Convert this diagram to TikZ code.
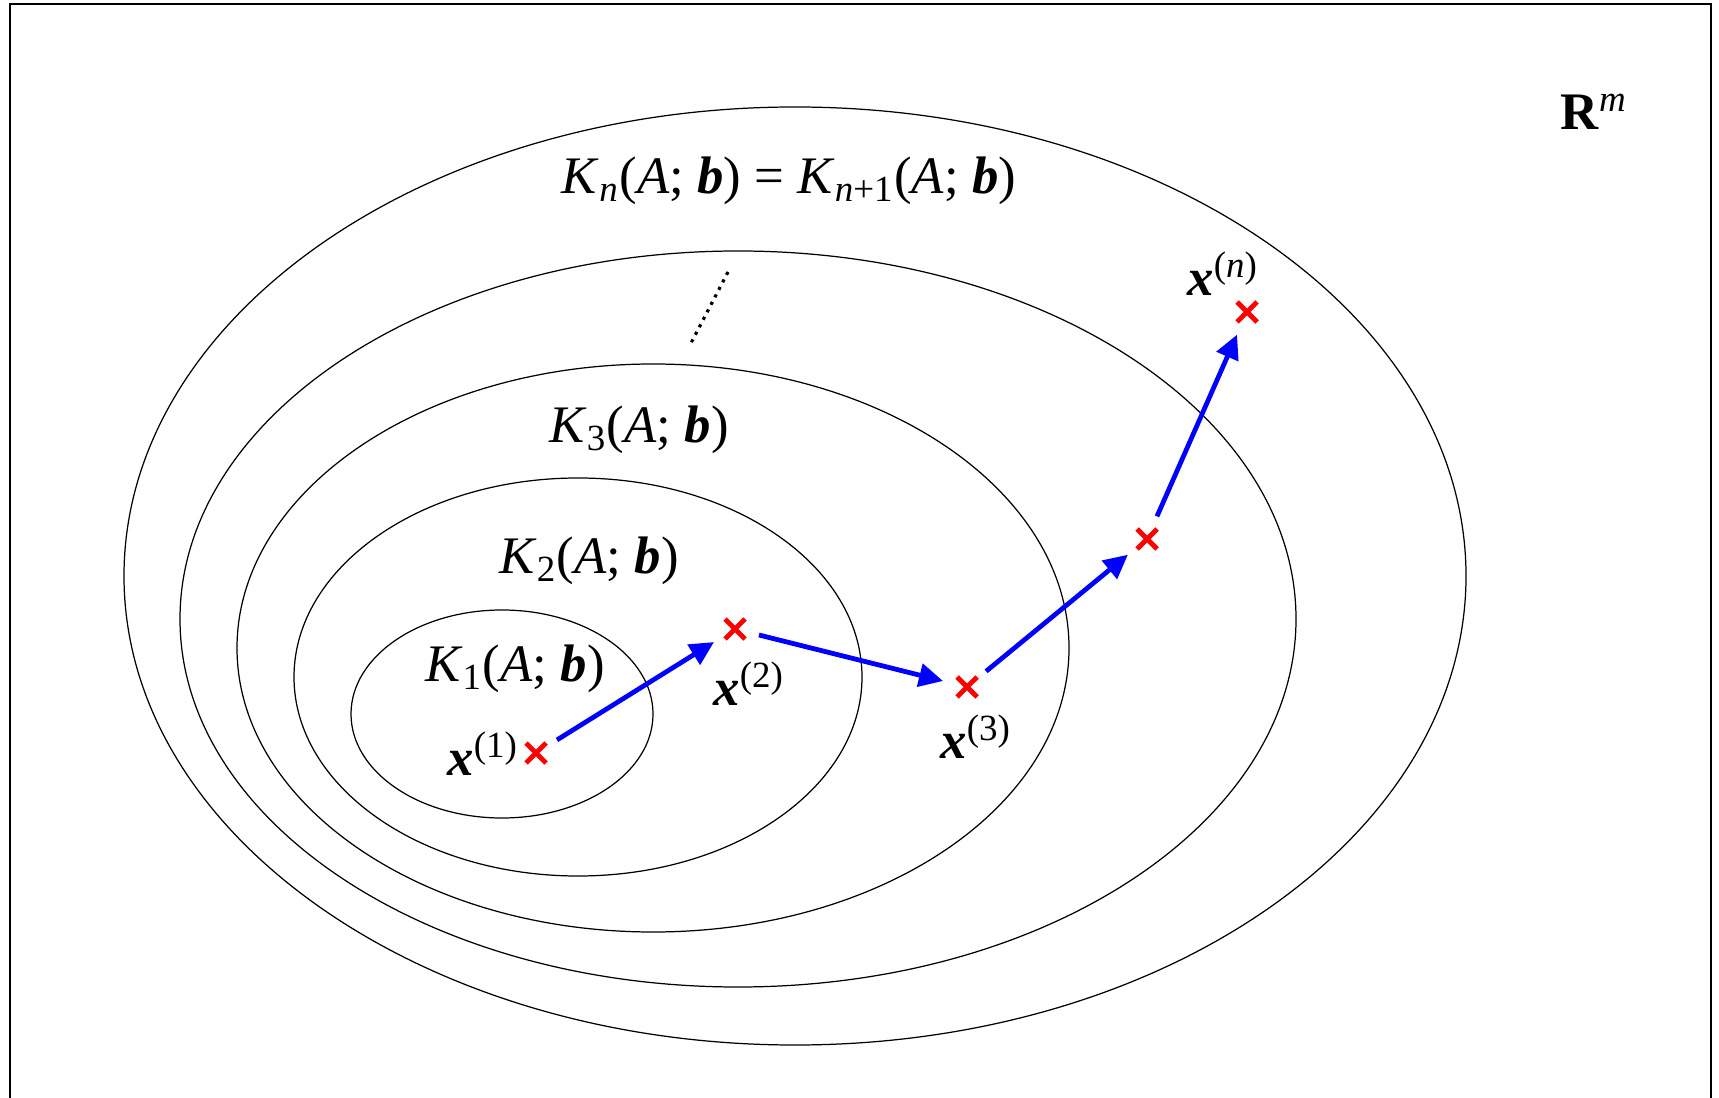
\documentclass[tikz,border=0pt]{standalone}
\usepackage{fontspec}
\setmainfont{Liberation Serif}
\usetikzlibrary{arrows.meta}

\begin{document}
\begin{tikzpicture}[
x=0.01cm, y=-0.01cm,
every node/.style={
font=\fontsize{15pt}{18pt}\selectfont,
inner sep=0pt
},
space/.style={line width=0.35pt},
iterate/.style={
circle,
minimum size=0.48cm,
path picture={
\draw[red, line width=1.4pt]
([shift={(-10,-10)}]path picture bounding box.center) -- ([shift={(10,10)}]path picture bounding box.center)
([shift={(-10,10)}]path picture bounding box.center) -- ([shift={(10,-10)}]path picture bounding box.center);
}
},
stepline/.style={blue, line width=1.35pt, -{Triangle[length=0.24cm,width=0.23cm]}}
]
\useasboundingbox (0,0) rectangle (1719,1098);

% frame (open at the bottom)
\draw[line width=0.6pt] (10,1098) -- (10,4) -- (1711,4) -- (1711,1098);

% nested Krylov subspaces
\draw[space] (795,576) ellipse [x radius=671, y radius=469];
\draw[space] (738,619) ellipse [x radius=558, y radius=368];
\draw[space] (653,648) ellipse [x radius=416, y radius=284];
\draw[space] (578,677) ellipse [x radius=284, y radius=199];
\draw[space] (502,714) ellipse [x radius=151, y radius=104];

\node (Rm) at (1594,112) {\textbf{R}\textsuperscript{\textit{m}}};
\node (Kn) at (789,181) {\textit{K}\textsubscript{\textit{n}}(\textit{A}; \textbf{\textit{b}}) = \textit{K}\textsubscript{\textit{n}+1}(\textit{A}; \textbf{\textit{b}})};
\node (K3) at (639,430) {\textit{K}\textsubscript{3}(\textit{A}; \textbf{\textit{b}})};
\node (K2) at (589,561) {\textit{K}\textsubscript{2}(\textit{A}; \textbf{\textit{b}})};
\node (K1) at (515,669) {\textit{K}\textsubscript{1}(\textit{A}; \textbf{\textit{b}})};

\coordinate (dotTop) at (728,272);
\coordinate (dotBot) at (690,345);
\draw[line width=0.9pt, dash pattern=on 0.9pt off 1.5pt] (dotTop) -- (dotBot);

% iterates
\node[iterate] (x1) at (536,753) {};
\node[iterate] (x2) at (735,629) {};
\node[iterate] (x3) at (967,687) {};
\node[iterate] (x4) at (1147,539) {};
\node[iterate] (xn) at (1247,312) {};

\node (l1) at (483,754) {\textbf{\textit{x}}\textsuperscript{(1)}};
\node (l2) at (749,684) {\textbf{\textit{x}}\textsuperscript{(2)}};
\node (l3) at (976,737) {\textbf{\textit{x}}\textsuperscript{(3)}};
\node (ln) at (1223,274) {\textbf{\textit{x}}\textsuperscript{(\textit{n})}};

\draw[stepline] (x1) -- (x2);
\draw[stepline] (x2) -- (x3);
\draw[stepline] (x3) -- (x4);
\draw[stepline] (x4) -- (xn);

\end{tikzpicture}
\end{document}
